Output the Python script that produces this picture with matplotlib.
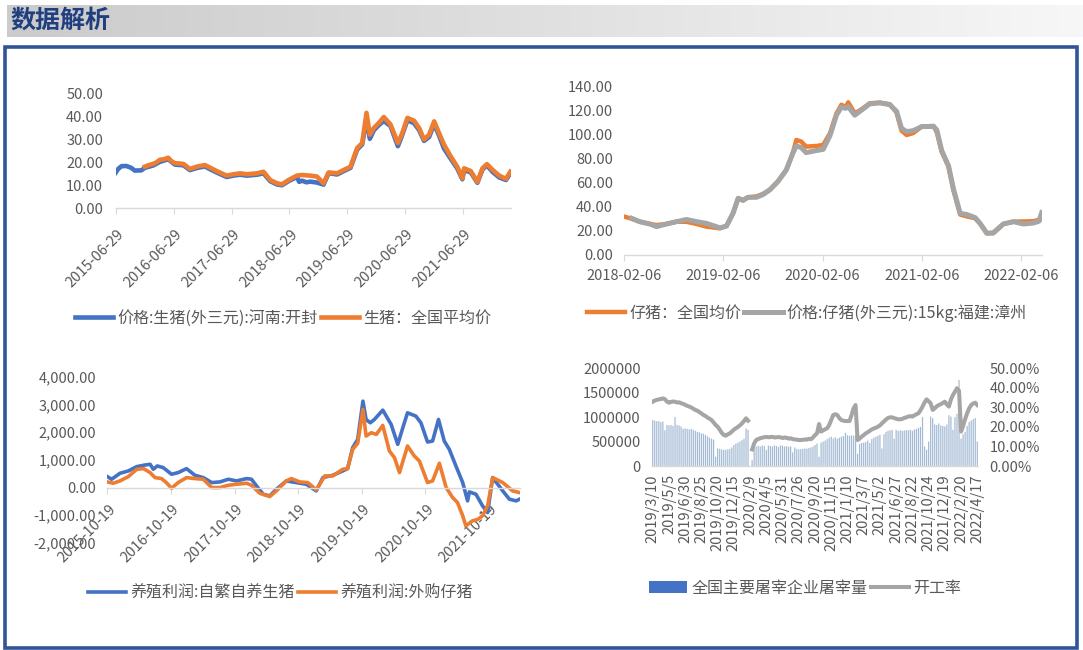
import matplotlib
matplotlib.use('Agg')
import matplotlib.pyplot as plt
import matplotlib.transforms as mtrans
from matplotlib.lines import Line2D
from matplotlib.patches import Patch, Rectangle
from matplotlib.ticker import FuncFormatter, MultipleLocator
from matplotlib.colors import LinearSegmentedColormap
import numpy as np
import pandas as pd

plt.rcParams['font.family'] = ['Noto Sans CJK SC', 'DejaVu Sans']

# ---------------- data ----------------
title_text = "数据解析"

# chart 1: live hog price
c1_blue_name = "价格:生猪(外三元):河南:开封"
c1_orange_name = "生猪：全国平均价"
c1_blue_dates = ["2015-06-29", "2015-07-13", "2015-08-04", "2015-09-04", "2015-10-05", "2015-10-27",
                 "2015-12-08", "2015-12-30", "2016-02-20", "2016-04-03", "2016-05-25", "2016-07-07",
                 "2016-08-29", "2016-10-10", "2016-11-21", "2017-01-12", "2017-02-13", "2017-03-27",
                 "2017-05-29", "2017-07-11", "2017-08-22", "2017-10-04", "2017-12-06", "2018-01-17",
                 "2018-02-28", "2018-04-11", "2018-05-13", "2018-06-24", "2018-08-16", "2018-08-30",
                 "2018-09-17", "2018-10-15", "2018-11-08", "2018-12-20", "2019-01-31", "2019-03-04",
                 "2019-04-26", "2019-06-08", "2019-07-20", "2019-08-31", "2019-10-02", "2019-10-29",
                 "2019-11-19", "2019-12-14", "2020-01-15", "2020-02-15", "2020-03-28", "2020-05-14",
                 "2020-06-11", "2020-07-13", "2020-08-24", "2020-09-25", "2020-10-26", "2020-11-27",
                 "2020-12-29", "2021-01-29", "2021-03-01", "2021-04-12", "2021-05-24", "2021-06-25",
                 "2021-07-06", "2021-08-17", "2021-09-28", "2021-10-30", "2021-11-27", "2022-01-02",
                 "2022-02-13", "2022-03-27", "2022-04-24"]
c1_blue_vals = [15.5, 17.0, 18.3, 18.4, 17.6, 16.4,
                16.5, 17.6, 18.6, 20.2, 21.3, 19.0,
                18.7, 16.6, 17.5, 18.2, 17.0, 15.6,
                13.6, 14.2, 14.6, 14.2, 14.6, 15.2,
                11.8, 10.4, 10.0, 11.8, 13.6, 11.5,
                12.0, 11.3, 11.6, 11.2, 10.3, 15.3,
                14.7, 16.2, 17.6, 25.5, 27.8, 39.0,
                30.2, 33.9, 36.2, 38.0, 35.8, 27.0,
                32.0, 38.3, 37.0, 34.0, 29.3, 31.0,
                36.6, 31.6, 26.0, 21.6, 17.3, 12.6,
                16.6, 15.6, 11.1, 16.9, 18.7, 15.8,
                13.4, 12.3, 15.2]
c1_orange_dates = ["2015-12-30", "2016-01-25", "2016-02-20", "2016-03-10", "2016-04-03", "2016-04-28",
                   "2016-05-25", "2016-06-15", "2016-07-07", "2016-08-01", "2016-08-29", "2016-10-10",
                   "2016-11-21", "2017-01-12", "2017-02-13", "2017-03-27", "2017-05-29", "2017-07-11",
                   "2017-08-22", "2017-10-04", "2017-12-06", "2018-01-17", "2018-02-28", "2018-04-11",
                   "2018-05-13", "2018-06-24", "2018-08-16", "2018-09-17", "2018-11-08", "2018-12-20",
                   "2019-01-31", "2019-03-04", "2019-04-26", "2019-06-08", "2019-07-20", "2019-08-31",
                   "2019-10-02", "2019-10-29", "2019-11-19", "2019-12-14", "2020-01-15", "2020-02-15",
                   "2020-03-28", "2020-05-14", "2020-06-11", "2020-07-13", "2020-08-24", "2020-09-25",
                   "2020-10-26", "2020-11-27", "2020-12-29", "2021-01-29", "2021-03-01", "2021-04-12",
                   "2021-05-24", "2021-06-25", "2021-07-06", "2021-08-17", "2021-09-28", "2021-10-30",
                   "2021-11-27", "2022-01-02", "2022-02-13", "2022-03-27", "2022-04-24"]
c1_orange_vals = [18.1, 18.8, 19.3, 19.9, 21.1, 21.3,
                  22.0, 20.5, 19.6, 19.5, 19.3, 17.1,
                  18.1, 18.8, 17.7, 16.2, 14.2, 14.8,
                  15.2, 14.8, 15.2, 15.9, 12.3, 10.9,
                  10.4, 12.3, 14.2, 14.5, 14.2, 13.8,
                  10.9, 15.6, 15.2, 16.7, 18.1, 26.2,
                  28.4, 41.5, 32.0, 34.9, 37.1, 39.7,
                  36.5, 28.4, 32.7, 39.3, 38.1, 34.9,
                  29.9, 32.0, 37.8, 32.7, 27.7, 22.6,
                  18.1, 13.0, 17.4, 16.2, 11.5, 17.4,
                  19.2, 16.7, 14.2, 12.8, 15.9]
c1_ticks = ["2015-06-29", "2016-06-29", "2017-06-29", "2018-06-29", "2019-06-29", "2020-06-29", "2021-06-29"]

# chart 2: piglet price
c2_orange_name = "仔猪：全国均价"
c2_gray_name = "价格:仔猪(外三元):15kg:福建:漳州"
c2_orange_dates = ["2018-02-06", "2018-03-05", "2018-04-04", "2018-05-11", "2018-06-05", "2018-07-11",
                   "2018-08-17", "2018-09-23", "2018-10-30", "2018-12-05", "2019-01-24", "2019-02-17",
                   "2019-03-13", "2019-04-01", "2019-04-19", "2019-05-07", "2019-06-07", "2019-07-01",
                   "2019-07-26", "2019-08-25", "2019-09-25", "2019-10-19", "2019-11-01", "2019-11-19",
                   "2019-12-07", "2020-01-13", "2020-02-08", "2020-03-04", "2020-03-28", "2020-04-15",
                   "2020-05-01", "2020-05-10", "2020-06-03", "2020-06-28", "2020-07-28", "2020-09-04",
                   "2020-10-10", "2020-11-04", "2020-11-22", "2020-12-11", "2021-01-04", "2021-02-05",
                   "2021-03-20", "2021-04-01", "2021-04-19", "2021-05-14", "2021-06-01", "2021-06-26",
                   "2021-07-20", "2021-08-20", "2021-09-07", "2021-10-02", "2021-10-26", "2021-12-02",
                   "2022-01-08", "2022-02-14", "2022-03-23", "2022-04-16"]
c2_orange_vals = [31.8, 30.0, 27.6, 25.7, 24.8, 25.7,
                  27.6, 27.5, 25.7, 23.5, 22.1, 24.0,
                  34.5, 47.0, 45.0, 47.8, 48.5, 50.6,
                  53.9, 60.8, 70.4, 84.3, 95.3, 94.0,
                  89.8, 90.3, 91.2, 100.8, 117.4, 124.5,
                  122.4, 126.5, 117.4, 120.7, 125.7, 126.2,
                  124.9, 118.0, 103.0, 99.4, 101.0, 106.4,
                  106.9, 101.6, 85.6, 73.2, 53.9, 33.5,
                  32.0, 30.4, 26.2, 18.0, 18.0, 25.7,
                  27.6, 27.8, 28.0, 29.5]
c2_gray_dates = ["2018-03-05", "2018-04-04", "2018-05-11", "2018-06-05", "2018-07-11", "2018-08-17",
                 "2018-09-23", "2018-10-30", "2018-12-05", "2019-01-24", "2019-02-17", "2019-03-13",
                 "2019-04-01", "2019-04-19", "2019-05-07", "2019-06-07", "2019-07-01", "2019-07-26",
                 "2019-08-25", "2019-09-25", "2019-10-19", "2019-11-01", "2019-11-19", "2019-12-07",
                 "2020-01-13", "2020-02-08", "2020-03-04", "2020-03-28", "2020-04-15", "2020-05-01",
                 "2020-05-10", "2020-06-03", "2020-06-28", "2020-07-28", "2020-09-04", "2020-10-10",
                 "2020-11-04", "2020-11-22", "2020-12-11", "2021-01-04", "2021-02-05", "2021-03-20",
                 "2021-04-01", "2021-04-19", "2021-05-14", "2021-06-01", "2021-06-26", "2021-07-20",
                 "2021-08-20", "2021-09-07", "2021-10-02", "2021-10-26", "2021-12-02", "2022-01-08",
                 "2022-02-14", "2022-03-23", "2022-04-12", "2022-04-22"]
c2_gray_vals = [30.4, 27.6, 25.7, 23.5, 25.7, 27.6,
                29.4, 27.6, 26.2, 22.5, 24.0, 34.5,
                47.0, 45.5, 47.8, 47.8, 50.0, 53.9,
                60.8, 70.4, 84.3, 90.3, 89.0, 84.8,
                86.5, 87.5, 99.0, 116.0, 122.5, 121.5,
                123.0, 115.8, 120.0, 125.2, 126.0, 124.5,
                119.0, 105.0, 102.2, 103.0, 106.4, 106.5,
                103.6, 86.5, 74.0, 55.0, 34.5, 33.6,
                31.0, 26.2, 18.0, 18.5, 25.7, 27.6,
                25.7, 26.5, 28.0, 35.1]
c2_ticks = ["2018-02-06", "2019-02-06", "2020-02-06", "2021-02-06", "2022-02-06"]

# chart 3: breeding profit
c3_blue_name = "养殖利润:自繁自养生猪"
c3_orange_name = "养殖利润:外购仔猪"
c3_blue_dates = ["2015-10-19", "2015-11-13", "2015-12-31", "2016-02-17", "2016-04-05", "2016-05-23",
                 "2016-06-21", "2016-07-09", "2016-08-01", "2016-09-04", "2016-10-22", "2016-11-29",
                 "2017-01-16", "2017-03-05", "2017-04-22", "2017-06-10", "2017-07-27", "2017-09-13",
                 "2017-10-30", "2017-12-27", "2018-01-24", "2018-02-22", "2018-04-01", "2018-05-09",
                 "2018-06-16", "2018-08-12", "2018-10-08", "2018-12-05", "2019-01-31", "2019-03-10",
                 "2019-05-06", "2019-07-02", "2019-07-30", "2019-08-28", "2019-09-26", "2019-10-26",
                 "2019-11-13", "2019-12-07", "2019-12-31", "2020-02-17", "2020-04-05", "2020-05-13",
                 "2020-06-11", "2020-07-08", "2020-08-25", "2020-09-23", "2020-10-31", "2020-11-29",
                 "2021-01-02", "2021-02-04", "2021-03-05", "2021-04-12", "2021-05-21", "2021-06-18",
                 "2021-06-28", "2021-08-05", "2021-09-12", "2021-10-11", "2021-11-09", "2022-01-06",
                 "2022-02-13", "2022-03-24", "2022-04-12"]
c3_blue_vals = [396, 300, 516, 600, 755, 815,
                840, 660, 780, 720, 480, 540,
                683, 444, 360, 180, 204, 300,
                240, 324, 300, 60, -240, -300,
                -60, 240, 180, 120, -120, 360,
                444, 600, 683, 1439, 1739, 3118,
                2458, 2338, 2458, 2794, 2278, 1559,
                2158, 2698, 2578, 2338, 1643, 1679,
                2458, 1679, 1379, 779, 180, -480,
                -156, -240, -660, -900, 360, -120,
                -420, -480, -420]
c3_orange_dates = ["2015-10-19", "2015-11-22", "2015-12-31", "2016-02-17", "2016-04-05", "2016-05-14",
                   "2016-06-21", "2016-07-19", "2016-08-25", "2016-09-22", "2016-10-22", "2016-11-29",
                   "2017-01-16", "2017-03-05", "2017-04-22", "2017-06-10", "2017-07-27", "2017-09-13",
                   "2017-10-30", "2017-12-27", "2018-01-24", "2018-03-12", "2018-05-09", "2018-06-16",
                   "2018-08-12", "2018-09-10", "2018-10-28", "2018-12-14", "2019-01-31", "2019-03-21",
                   "2019-05-06", "2019-07-02", "2019-07-30", "2019-08-28", "2019-09-26", "2019-10-26",
                   "2019-11-13", "2019-12-13", "2020-01-11", "2020-02-17", "2020-03-26", "2020-04-24",
                   "2020-05-23", "2020-07-08", "2020-08-16", "2020-09-14", "2020-10-31", "2020-11-29",
                   "2021-01-07", "2021-02-15", "2021-03-24", "2021-04-21", "2021-05-21", "2021-06-08",
                   "2021-07-16", "2021-08-15", "2021-09-12", "2021-10-11", "2021-11-09", "2022-01-06",
                   "2022-03-04", "2022-04-12"]
c3_orange_vals = [204, 156, 240, 396, 660, 683,
                  540, 360, 324, 180, -24, 180,
                  360, 324, 300, 0, 0, 84,
                  120, 156, 84, -204, -324, -120,
                  240, 324, 204, 180, -84, 420,
                  420, 660, 683, 1379, 1595, 2818,
                  1859, 1978, 1918, 2242, 1319, 1079,
                  540, 1499, 1139, 959, 180, 240,
                  875, 0, -360, -540, -1019, -1380,
                  -1200, -1150, -1020, -660, 360, 180,
                  -120, -180]
c3_ticks = ["2015-10-19", "2016-10-19", "2017-10-19", "2018-10-19", "2019-10-19", "2020-10-19", "2021-10-19"]

# chart 4: slaughter volume & operating rate (weekly)
c4_bar_name = "全国主要屠宰企业屠宰量"
c4_line_name = "开工率"
c4_tick_labels = ["2019/3/10", "2019/5/5", "2019/6/30", "2019/8/25", "2019/10/20", "2019/12/15",
                  "2020/2/9", "2020/4/5", "2020/5/31", "2020/7/26", "2020/9/20", "2020/11/15",
                  "2021/1/10", "2021/3/7", "2021/5/2", "2021/6/27", "2021/8/22", "2021/10/24",
                  "2021/12/19", "2022/2/20", "2022/4/17"]
c4_volume = [940000, 930000, 920000, 915000, 900000, 910000, 730000, 840000, 830000, 840000,
             820000, 1000000, 840000, 830000, 810000, 760000, 770000, 760000, 750000, 760000,
             740000, 720000, 700000, 690000, 670000, 660000, 640000, 610000, 580000, 560000,
             540000, 190000, 360000, 350000, 340000, 330000, 330000, 340000, 350000, 380000,
             430000, 460000, 480000, 500000, 530000, 560000, 770000, 740000, 0, 120000,
             380000, 400000, 410000, 400000, 420000, 410000, 330000, 420000, 410000, 400000,
             420000, 410000, 390000, 420000, 415000, 400000, 405000, 395000, 400000, 280000,
             380000, 350000, 340000, 345000, 350000, 360000, 355000, 370000, 380000, 400000,
             430000, 460000, 190000, 480000, 500000, 520000, 550000, 580000, 600000, 560000,
             590000, 560000, 580000, 600000, 610000, 680000, 630000, 620000, 630000, 620000,
             640000, 250000, 450000, 470000, 480000, 490000, 520000, 470000, 550000, 580000,
             600000, 620000, 640000, 360000, 650000, 700000, 720000, 730000, 740000, 560000,
             740000, 720000, 730000, 720000, 725000, 735000, 730000, 740000, 720000, 750000,
             760000, 780000, 800000, 1000000, 400000, 330000, 500000, 1010000, 980000, 850000,
             840000, 870000, 830000, 820000, 810000, 850000, 1040000, 1010000, 740000, 1000000,
             1070000, 1760000, 560000, 650000, 700000, 820000, 900000, 930000, 960000, 980000,
             500000]
c4_rate = [32.9, 33.5, 33.8, 34.1, 34.3, 34.6, 34.2, 33.0, 32.4, 32.8,
           33.0, 32.9, 32.5, 32.6, 32.1, 31.8, 31.3, 30.8, 30.4, 30.0,
           29.3, 28.7, 28.3, 27.6, 26.9, 26.1, 25.6, 24.8, 24.2, 23.5,
           22.3, 21.0, 20.1, 18.6, 17.0, 15.9, 15.5, 16.2, 16.7, 17.6,
           18.6, 19.3, 20.0, 20.8, 21.8, 23.0, 24.4, 23.2, np.nan, 8.5,
           11.5, 13.3, 13.8, 14.2, 14.5, 14.7, 14.9, 14.7, 14.8, 14.9,
           14.6, 14.7, 14.8, 14.7, 14.3, 14.6, 14.4, 14.0, 14.2, 13.8,
           13.6, 13.5, 13.3, 13.3, 13.4, 13.6, 13.5, 13.9, 13.7, 14.6,
           15.8, 16.7, 21.5, 17.6, 18.2, 18.8, 19.3, 21.0, 23.5, 26.1,
           26.5, 26.1, 24.5, 23.5, 23.2, 23.0, 23.0, 23.0, 26.0, 29.5,
           31.2, 13.3, 14.0, 15.0, 15.8, 16.7, 17.3, 18.0, 18.7, 19.2,
           19.6, 20.1, 20.8, 21.8, 22.8, 23.8, 24.6, 24.9, 24.9, 24.5,
           24.2, 23.9, 23.9, 24.1, 24.6, 24.9, 25.3, 25.5, 25.3, 25.9,
           26.5, 27.0, 28.5, 30.4, 32.5, 34.1, 33.2, 32.1, 28.7, 29.5,
           30.5, 31.2, 31.6, 32.3, 32.9, 31.5, 30.4, 34.0, 36.3, 38.0,
           39.8, 38.5, 17.6, 20.5, 24.0, 27.0, 29.5, 31.2, 32.0, 32.4,
           31.2]

# ---------------- styling ----------------
W, H = 1083, 650
BLUE = '#4472C4'
ORANGE = '#ED7D31'
GRAY = '#A5A5A5'
TXT = '#595959'
AX = '#D9D9D9'
FS = 10.5
LFS = 11.5

fig = plt.figure(figsize=(W / 100, H / 100), dpi=100)


def rect(x0, y_top, x1, y_bot):
    return [x0 / W, 1 - y_bot / H, (x1 - x0) / W, (y_bot - y_top) / H]


# header gradient bar
hax = fig.add_axes(rect(7, 5, W, 37))
grad = np.linspace(0, 1, 256).reshape(1, -1)
cmap = LinearSegmentedColormap.from_list('hdr', ['#cbcbcb', '#e0e0e0', '#f7f7f7'])
hax.imshow(grad, aspect='auto', cmap=cmap, extent=[0, 1, 0, 1])
hax.set_axis_off()
fig.text(10 / W, 1 - 21 / H, title_text, fontsize=18, fontweight='bold', color='#1F3F7F',
         ha='left', va='center')

# frame
fig.add_artist(Rectangle((5 / W, 1 - 647.5 / H), (1076.5 - 5) / W, (647.5 - 46.5) / H,
                         transform=fig.transFigure, fill=False, ec='#2F5597', lw=2.6))


def base_style(ax):
    for s in ['top', 'right', 'left']:
        ax.spines[s].set_visible(False)
    ax.spines['bottom'].set_color(AX)
    ax.spines['bottom'].set_linewidth(1.0)
    ax.tick_params(axis='y', length=0, labelsize=FS, labelcolor=TXT)
    ax.tick_params(axis='x', color=AX, labelcolor=TXT, labelsize=FS, length=4)
    ax.patch.set_alpha(0)


def shift_labels(ax, dx_px, dy_px=0):
    off = mtrans.ScaledTranslation(dx_px / 100, dy_px / 100, fig.dpi_scale_trans)
    for lab in ax.get_xticklabels():
        lab.set_transform(lab.get_transform() + off)


def legend(ax, handles, labels, cx, cy, hl=2.4):
    ax.legend(handles, labels, loc='center', bbox_to_anchor=(cx / W, 1 - cy / H),
              bbox_transform=fig.transFigure, ncol=len(handles), frameon=False,
              fontsize=LFS, labelcolor=TXT, handlelength=hl, handletextpad=0.25,
              columnspacing=0.2, borderaxespad=0, borderpad=0)


# ---- chart 1 ----
ax1 = fig.add_axes(rect(115.7, 93.3, 511, 208.3))
base_style(ax1)
ax1.plot(pd.to_datetime(c1_blue_dates), c1_blue_vals, color=BLUE, lw=3.3, solid_joinstyle='round')
ax1.plot(pd.to_datetime(c1_orange_dates), c1_orange_vals, color=ORANGE, lw=3.3, solid_joinstyle='round')
ax1.set_ylim(0, 50)
ax1.yaxis.set_major_locator(MultipleLocator(10))
ax1.yaxis.set_major_formatter(FuncFormatter(lambda v, p: f"{v:.2f}"))
ax1.set_xlim(pd.Timestamp("2015-06-29"), pd.Timestamp("2022-04-28"))
ax1.set_xticks(pd.to_datetime(c1_ticks))
ax1.set_xticklabels(c1_ticks, rotation=45, ha='right', va='center', rotation_mode='anchor')
ax1.tick_params(axis='y', pad=9)
ax1.tick_params(axis='x', pad=13)
shift_labels(ax1, 6)
legend(ax1, [Line2D([], [], color=BLUE, lw=3.3), Line2D([], [], color=ORANGE, lw=3.3)],
       [c1_blue_name, c1_orange_name], 283, 318)

# ---- chart 2 ----
ax2 = fig.add_axes(rect(624.3, 86, 1041.7, 255))
base_style(ax2)
ax2.plot(pd.to_datetime(c2_orange_dates), c2_orange_vals, color=ORANGE, lw=3.2, solid_joinstyle='round')
ax2.plot(pd.to_datetime(c2_gray_dates), c2_gray_vals, color=GRAY, lw=3.6, solid_joinstyle='round')
ax2.set_ylim(0, 140)
ax2.yaxis.set_major_locator(MultipleLocator(20))
ax2.yaxis.set_major_formatter(FuncFormatter(lambda v, p: f"{v:.2f}"))
ax2.set_xlim(pd.Timestamp("2018-02-06"), pd.Timestamp("2022-04-22"))
ax2.set_xticks(pd.to_datetime(c2_ticks))
ax2.set_xticklabels(c2_ticks)
ax2.tick_params(axis='y', pad=8)
ax2.tick_params(axis='x', pad=6)
legend(ax2, [Line2D([], [], color=ORANGE, lw=3.2), Line2D([], [], color=GRAY, lw=3.6)],
       [c2_orange_name, c2_gray_name], 807, 313)

# ---- chart 3 ----
ax3 = fig.add_axes(rect(107.3, 376.7, 520, 543))
base_style(ax3)
ax3.plot(pd.to_datetime(c3_blue_dates), c3_blue_vals, color=BLUE, lw=2.6, solid_joinstyle='round')
ax3.plot(pd.to_datetime(c3_orange_dates), c3_orange_vals, color=ORANGE, lw=2.6, solid_joinstyle='round')
ax3.set_ylim(-2000, 4000)
ax3.yaxis.set_major_locator(MultipleLocator(1000))
ax3.yaxis.set_major_formatter(FuncFormatter(lambda v, p: f"{v:,.2f}"))
ax3.spines['bottom'].set_position(('data', 0))
ax3.set_xlim(pd.Timestamp("2015-10-19"), pd.Timestamp("2022-04-15"))
ax3.set_xticks(pd.to_datetime(c3_ticks))
ax3.set_xticklabels(c3_ticks, rotation=45, ha='right', va='center', rotation_mode='anchor')
ax3.tick_params(axis='y', pad=8)
ax3.tick_params(axis='x', pad=10)
shift_labels(ax3, 6)
legend(ax3, [Line2D([], [], color=BLUE, lw=2.6), Line2D([], [], color=ORANGE, lw=2.6)],
       [c3_blue_name, c3_orange_name], 280, 593)

# ---- chart 4 ----
ax4 = fig.add_axes(rect(651.7, 368.3, 978.3, 466))
base_style(ax4)
xs = np.arange(len(c4_volume))
ax4.bar(xs, c4_volume, width=0.6, color='#a3bad4', linewidth=0, snap=False)
ax4.set_ylim(0, 2000000)
ax4.yaxis.set_major_locator(MultipleLocator(500000))
ax4.yaxis.set_major_formatter(FuncFormatter(lambda v, p: f"{v:.0f}"))
ax4.set_xlim(-0.5, len(c4_volume) - 0.5)
ax4.set_xticks(xs[::8])
ax4.set_xticklabels(c4_tick_labels, rotation=90, ha='center', va='top')
ax4.tick_params(axis='x', length=0, pad=6)
ax4.tick_params(axis='y', pad=8)
ax4b = ax4.twinx()
for s in ['top', 'right', 'left', 'bottom']:
    ax4b.spines[s].set_visible(False)
ax4b.plot(xs, np.array(c4_rate) / 100, color=GRAY, lw=2.9, solid_joinstyle='round')
ax4b.set_ylim(0, 0.5)
ax4b.yaxis.set_major_locator(MultipleLocator(0.1))
ax4b.yaxis.set_major_formatter(FuncFormatter(lambda v, p: f"{v * 100:.2f}%"))
ax4b.tick_params(axis='y', length=0, labelsize=FS, labelcolor=TXT, pad=8)
legend(ax4b, [Patch(facecolor=BLUE, edgecolor='none'), Line2D([], [], color=GRAY, lw=2.9)],
       [c4_bar_name, c4_line_name], 805, 588, hl=2.4)

fig.savefig('out.png', dpi=100)
